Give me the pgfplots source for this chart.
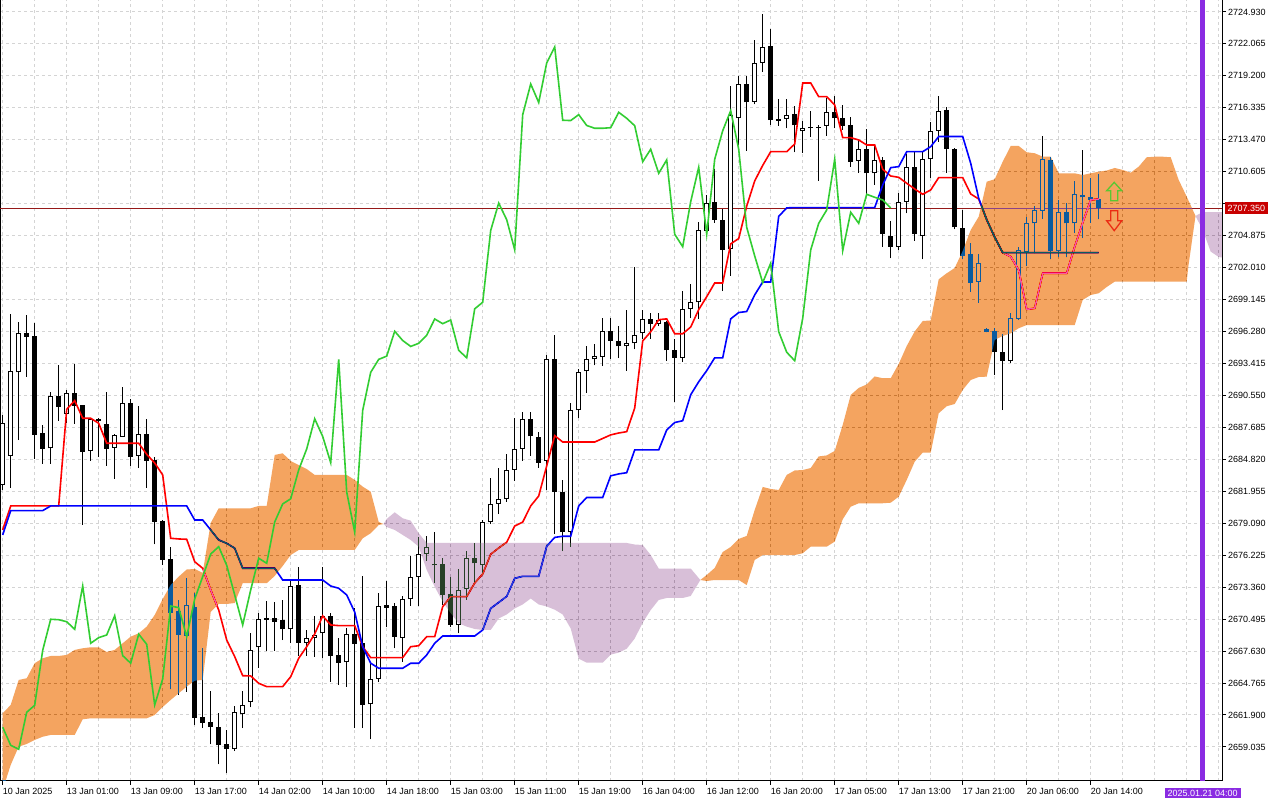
\documentclass[border=0pt]{standalone}
\usepackage{fontspec}
\setmainfont{Liberation Sans}
\usepackage{pgfplots}
\usepackage{pgfplotstable}
\pgfplotsset{compat=1.18}

\definecolor{cloudA}{RGB}{11,91,159}   % SandyBrown under difference blending
\definecolor{cloudB}{RGB}{39,64,39}    % Thistle under difference blending
\definecolor{chik}{RGB}{50,205,50}
\definecolor{vline}{RGB}{138,43,226}
\definecolor{pline}{RGB}{150,25,25}
\definecolor{plabel}{RGB}{200,0,0}
\definecolor{gridc}{RGB}{212,212,212}
\definecolor{arrg}{RGB}{90,200,50}
\definecolor{arrr}{RGB}{235,45,20}

% bullish candles: bar, open, high, low, close
\pgfplotstableread{
i o h l c
0 2682.52 2688.80 2682.07 2688.08
1 2685.15 2697.85 2682.28 2692.74
2 2692.62 2697.13 2686.55 2696.12
6 2685.81 2690.83 2684.40 2690.47
8 2688.91 2691.04 2688.05 2690.74
11 2685.57 2688.50 2684.70 2688.46
14 2685.86 2687.05 2683.06 2687.00
15 2686.85 2691.28 2686.80 2689.84
17 2685.15 2689.60 2684.02 2687.07
23 2668.98 2674.16 2663.99 2671.76
29 2658.83 2662.73 2658.65 2662.14
30 2661.96 2664.05 2660.71 2662.77
31 2663.04 2669.28 2662.59 2667.70
32 2667.97 2671.07 2666.14 2670.48
36 2669.58 2674.00 2668.33 2673.46
38 2668.33 2669.52 2667.19 2668.83
39 2668.83 2670.78 2667.13 2669.07
40 2669.22 2675.20 2666.98 2670.80
43 2666.62 2669.67 2664.44 2669.14
46 2662.86 2666.54 2659.72 2665.13
47 2665.13 2672.81 2664.89 2671.67
50 2668.83 2672.57 2666.68 2672.30
51 2672.27 2676.18 2671.67 2674.30
52 2674.25 2677.89 2671.70 2676.33
53 2676.31 2677.95 2675.73 2676.99
57 2669.97 2674.96 2669.22 2673.11
58 2673.17 2676.63 2672.21 2675.95
60 2675.35 2679.38 2674.45 2679.20
61 2679.20 2683.16 2679.01 2680.82
62 2680.82 2684.05 2679.91 2681.28
63 2681.25 2685.32 2681.00 2683.87
64 2683.87 2688.55 2682.91 2685.75
65 2685.78 2689.10 2684.71 2688.45
68 2684.71 2694.21 2682.07 2693.78
71 2678.29 2689.89 2676.96 2689.21
72 2689.21 2692.96 2688.48 2692.62
73 2692.70 2694.94 2690.79 2693.78
74 2693.78 2695.12 2693.24 2694.07
75 2694.03 2697.46 2693.17 2696.30
78 2694.94 2698.17 2692.77 2695.22
79 2695.22 2702.06 2694.68 2695.94
80 2696.10 2698.25 2695.58 2697.40
82 2696.98 2697.90 2696.75 2697.31
85 2693.92 2699.89 2693.53 2698.31
86 2698.31 2700.56 2697.47 2698.90
87 2698.90 2706.13 2697.41 2705.34
88 2705.27 2708.52 2704.81 2707.79
91 2703.71 2718.31 2701.29 2715.72
92 2715.39 2719.23 2713.00 2718.47
94 2716.88 2722.45 2716.65 2720.36
95 2720.36 2724.71 2719.56 2721.79
98 2715.32 2717.14 2714.49 2715.72
100 2714.21 2715.15 2712.31 2714.50
103 2714.73 2717.19 2713.83 2715.93
107 2711.57 2713.45 2710.52 2712.62
109 2710.46 2713.00 2709.42 2711.66
112 2703.88 2708.67 2703.59 2707.92
113 2707.92 2712.17 2706.88 2711.00
115 2704.84 2712.46 2702.75 2711.72
116 2711.72 2715.09 2710.07 2714.28
117 2714.28 2717.39 2713.30 2716.08
122 2700.75 2703.20 2698.86 2702.40
126 2693.66 2697.97 2693.48 2697.46
127 2697.38 2703.88 2697.31 2703.59
128 2703.44 2706.52 2702.15 2705.98
129 2705.98 2707.53 2703.29 2707.17
130 2707.11 2713.81 2706.37 2711.72
132 2703.53 2708.07 2702.93 2706.97
134 2705.98 2709.77 2705.14 2708.58
}\bull

% bearish candles: bar, open, high, low, close
\pgfplotstableread{
i o h l c
3 2696.15 2697.76 2692.23 2695.82
4 2695.88 2697.02 2684.85 2687.03
5 2687.18 2687.87 2684.40 2685.77
7 2690.47 2693.28 2688.28 2689.54
9 2690.74 2693.37 2687.99 2689.60
10 2689.66 2689.70 2678.96 2685.51
12 2688.46 2688.53 2685.06 2688.26
13 2687.99 2690.83 2684.25 2685.77
16 2689.84 2690.23 2684.25 2685.06
18 2687.07 2688.44 2682.28 2684.70
19 2684.76 2685.06 2677.20 2679.23
20 2679.29 2679.35 2675.35 2675.82
21 2675.89 2676.93 2664.20 2671.02
22 2671.22 2672.21 2663.69 2669.07
24 2671.56 2672.81 2661.00 2661.66
25 2661.75 2667.88 2660.71 2661.21
26 2661.27 2664.08 2659.27 2660.80
27 2660.85 2662.11 2657.48 2659.18
28 2659.30 2660.56 2656.67 2658.83
33 2670.60 2672.12 2667.64 2670.44
34 2670.57 2672.06 2667.64 2670.26
35 2670.42 2672.21 2668.62 2669.58
37 2673.55 2675.20 2667.19 2668.33
41 2670.78 2671.04 2664.89 2667.22
42 2667.28 2668.78 2664.59 2666.54
44 2669.16 2671.47 2660.71 2668.24
45 2668.33 2674.36 2660.71 2662.80
48 2671.76 2673.91 2669.76 2671.52
49 2671.67 2671.97 2667.88 2668.92
54 2675.44 2678.28 2673.76 2675.32
55 2675.44 2675.95 2671.76 2672.66
56 2672.75 2674.30 2669.82 2669.97
59 2676.00 2677.29 2673.85 2675.50
66 2688.45 2689.10 2685.14 2686.87
67 2686.82 2687.30 2684.05 2684.52
69 2693.78 2696.01 2678.11 2681.89
70 2681.89 2682.97 2676.60 2678.29
76 2696.30 2697.46 2693.85 2695.47
77 2695.47 2696.77 2693.89 2694.94
81 2697.41 2697.98 2695.65 2696.98
83 2697.14 2697.24 2693.66 2694.59
84 2694.59 2695.65 2689.94 2693.92
89 2707.86 2710.84 2706.04 2706.30
90 2706.27 2707.26 2699.89 2703.61
93 2718.47 2719.20 2712.50 2716.81
96 2721.89 2723.44 2714.82 2715.22
97 2715.32 2717.14 2714.72 2715.19
99 2715.78 2716.48 2712.34 2714.75
101 2714.59 2716.05 2713.74 2714.50
102 2714.64 2714.79 2709.80 2714.55
104 2715.93 2717.39 2714.50 2715.39
105 2715.39 2716.59 2714.35 2714.73
106 2714.79 2715.54 2711.06 2711.50
108 2712.62 2714.44 2708.61 2710.46
110 2711.66 2711.90 2703.88 2705.00
111 2704.84 2706.19 2702.84 2703.88
114 2711.00 2712.46 2704.42 2705.00
118 2716.14 2716.38 2710.52 2712.62
119 2712.62 2712.73 2705.44 2705.62
120 2705.53 2707.17 2702.75 2703.05
121 2703.20 2704.19 2699.85 2700.66
123 2696.51 2696.57 2696.21 2696.26
124 2696.35 2696.57 2692.38 2694.42
125 2694.42 2696.06 2689.24 2693.66
131 2711.66 2711.90 2702.75 2703.53
133 2706.97 2707.77 2702.93 2705.98
135 2708.52 2712.55 2704.64 2708.31
136 2708.31 2710.02 2706.04 2708.07
137 2708.13 2710.40 2706.34 2707.35
}\bear

% Tenkan-sen
\pgfplotstableread{
i v
0 2678.49
1 2680.64
7 2680.64
8 2689.31
9 2690.08
10 2688.50
11 2688.50
12 2688.05
13 2686.26
17 2686.26
18 2685.27
19 2684.49
20 2683.42
21 2677.74
22 2677.68
23 2677.65
24 2675.64
25 2675.05
26 2673.11
27 2671.31
28 2668.62
29 2667.13
30 2665.42
31 2665.40
32 2664.74
33 2664.44
35 2664.44
36 2665.33
37 2666.98
38 2668.02
39 2669.16
40 2670.78
41 2669.97
42 2669.91
44 2669.91
45 2668.02
46 2667.04
50 2667.04
51 2668.02
52 2668.11
53 2668.92
54 2668.92
55 2671.61
56 2672.51
58 2672.51
59 2673.73
60 2674.54
61 2676.31
62 2676.87
63 2677.39
64 2678.84
65 2679.19
66 2680.64
67 2681.53
68 2684.23
69 2686.94
70 2686.37
74 2686.37
75 2686.69
76 2687.01
77 2687.18
78 2687.30
79 2689.42
80 2695.43
81 2696.25
82 2697.34
83 2697.41
84 2696.08
85 2696.08
86 2696.68
87 2698.24
88 2699.40
89 2700.63
90 2700.63
91 2704.14
92 2704.61
93 2707.52
94 2709.78
95 2711.17
96 2712.40
98 2712.40
99 2713.09
100 2718.56
101 2718.56
102 2717.33
103 2717.33
104 2716.59
105 2713.66
106 2713.66
107 2713.45
108 2713.00
109 2713.00
110 2710.82
111 2710.22
112 2710.10
113 2709.57
114 2709.06
115 2708.58
116 2708.97
117 2710.08
120 2710.08
121 2708.61
122 2708.16
123 2706.30
124 2704.73
125 2703.35
126 2702.99
127 2701.79
128 2698.27
129 2698.36
130 2701.50
133 2701.50
134 2703.88
135 2706.04
136 2708.07
137 2708.16
}\tenkan

% Kijun-sen
\pgfplotstableread{
i v
0 2678.04
1 2680.22
5 2680.22
6 2680.64
23 2680.64
24 2679.38
25 2679.38
26 2678.49
27 2677.59
28 2677.29
29 2676.85
30 2675.05
34 2675.05
35 2674.00
40 2674.00
41 2673.46
42 2673.26
43 2672.66
44 2671.13
45 2668.02
46 2666.54
47 2666.09
50 2666.09
51 2666.54
52 2666.54
53 2667.28
54 2668.33
55 2668.98
59 2668.98
60 2669.52
61 2671.45
62 2671.99
63 2672.53
64 2674.15
65 2674.33
67 2674.33
68 2677.03
69 2677.82
70 2677.92
71 2677.92
72 2680.64
73 2681.40
75 2681.40
76 2683.34
77 2683.51
78 2683.62
79 2685.66
82 2685.66
83 2687.45
84 2688.12
85 2688.28
86 2690.61
87 2691.77
88 2692.77
89 2693.92
90 2693.92
91 2697.41
92 2697.98
93 2698.07
94 2699.56
95 2700.72
96 2700.72
97 2706.60
98 2707.36
99 2707.39
109 2707.39
110 2709.41
111 2710.97
112 2711.06
113 2712.40
115 2712.40
116 2712.85
117 2713.76
120 2713.76
121 2711.36
122 2708.22
123 2706.30
124 2704.73
125 2703.35
137 2703.35
}\kijun

% Chikou span (close plotted 26 bars back)
\pgfplotstableread{
i v
0 2660.80
1 2659.18
2 2658.83
3 2662.14
4 2662.77
5 2667.70
6 2670.48
7 2670.44
8 2670.26
9 2669.58
10 2673.46
11 2668.33
12 2668.83
13 2669.07
14 2670.80
15 2667.22
16 2666.54
17 2669.14
18 2668.24
19 2662.80
20 2665.13
21 2671.67
22 2671.52
23 2668.92
24 2672.30
25 2674.30
26 2676.33
27 2676.99
28 2675.32
29 2672.66
30 2669.97
31 2673.11
32 2675.95
33 2675.50
34 2679.20
35 2680.82
36 2681.28
37 2683.87
38 2685.75
39 2688.45
40 2686.87
41 2684.52
42 2693.78
43 2681.89
44 2678.29
45 2689.21
46 2692.62
47 2693.78
48 2694.07
49 2696.30
50 2695.47
51 2694.94
52 2695.22
53 2695.94
54 2697.40
55 2696.98
56 2697.31
57 2694.59
58 2693.92
59 2698.31
60 2698.90
61 2705.34
62 2707.79
63 2706.30
64 2703.61
65 2715.72
66 2718.47
67 2716.81
68 2720.36
69 2721.79
70 2715.22
71 2715.19
72 2715.72
73 2714.75
74 2714.50
75 2714.50
76 2714.55
77 2715.93
78 2715.39
79 2714.73
80 2711.50
81 2712.62
82 2710.46
83 2711.66
84 2705.00
85 2703.88
86 2707.92
87 2711.00
88 2705.00
89 2711.72
90 2714.28
91 2716.08
92 2712.62
93 2705.62
94 2703.05
95 2700.66
96 2702.40
97 2696.26
98 2694.42
99 2693.66
100 2697.46
101 2703.59
102 2705.98
103 2707.17
104 2711.72
105 2703.53
106 2706.97
107 2705.98
108 2708.58
109 2708.31
110 2708.07
111 2707.35
}\chikou

\begin{document}
\begin{tikzpicture}
\fill[white] (0pt,0pt) rectangle (1280pt,800pt);
\begin{axis}[
  at={(0pt,19pt)}, anchor=south west,
  scale only axis, width=1222pt, height=781pt,
  xmin=-0.3375, xmax=152.4125,
  ymin=2655.98, ymax=2726.0,
  axis background/.style={fill=white},
  axis line style={black, line width=1pt},
  tick align=outside,
  major tick length=4pt,
  minor tick length=0pt,
  xtick pos=left, ytick pos=right, yticklabel pos=right,
  xtick={0,8,...,136},
  xticklabels={10 Jan 2025,13 Jan 01:00,13 Jan 09:00,13 Jan 17:00,14 Jan 02:00,14 Jan 10:00,14 Jan 18:00,15 Jan 03:00,15 Jan 11:00,15 Jan 19:00,16 Jan 04:00,16 Jan 12:00,16 Jan 20:00,17 Jan 05:00,17 Jan 13:00,17 Jan 21:00,20 Jan 06:00,20 Jan 14:00},
  minor xtick={4,12,...,148,144,152},
  ytick={2659.035,2661.900,2664.765,2667.630,2670.495,2673.360,2676.225,2679.090,2681.955,2684.820,2687.685,2690.550,2693.415,2696.280,2699.145,2702.010,2704.875,2707.740,2710.605,2713.470,2716.335,2719.200,2722.065,2724.930},
  yticklabels={2659.035,2661.900,2664.765,2667.630,2670.495,2673.360,2676.225,2679.090,2681.955,2684.820,2687.685,2690.550,2693.415,2696.280,2699.145,2702.010,2704.875,,2710.605,2713.470,2716.335,2719.200,2722.065,2724.930},
  xmajorgrids, xminorgrids, ymajorgrids,
  grid style={color=gridc, dash pattern=on 3pt off 3pt, line width=1pt},
  major grid style={color=gridc, dash pattern=on 3pt off 3pt, line width=1pt},
  minor grid style={color=gridc, dash pattern=on 3pt off 3pt, line width=1pt},
  major tick style={black, line width=1pt},
  ticklabel style={font=\fontsize{9}{10}\selectfont, text=black},
  xticklabel style={anchor=north west, inner sep=0pt, yshift=-3pt},
  yticklabel style={anchor=west, inner sep=0pt, xshift=2pt},
]

% current price line (drawn below the cloud)
\addplot[draw=pline, line width=0.7pt, forget plot] coordinates {(-1,2707.35) (154,2707.35)};

% wicks
\addplot[draw=none, mark=none, forget plot, error bars/.cd, y dir=plus, y explicit, error mark=none, error bar style={draw=black, line width=1pt, solid}]
  table[x=i, y=l, y error expr={\thisrow{h}-\thisrow{l}}] {\bull};
\addplot[draw=none, mark=none, forget plot, error bars/.cd, y dir=plus, y explicit, error mark=none, error bar style={draw=black, line width=1pt, solid}]
  table[x=i, y=l, y error expr={\thisrow{h}-\thisrow{l}}] {\bear};
% bearish bodies
\addplot[draw=none, mark=none, forget plot, error bars/.cd, y dir=plus, y explicit, error mark=none, error bar style={draw=black, line width=5pt, solid}]
  table[x=i, y=c, y error expr={\thisrow{o}-\thisrow{c}}] {\bear};
% bullish bodies: outline and white inside
\addplot[draw=none, mark=none, forget plot, error bars/.cd, y dir=plus, y explicit, error mark=none, error bar style={draw=black, line width=5pt, solid}]
  table[x=i, y=o, y error expr={\thisrow{c}-\thisrow{o}}] {\bull};
\addplot[draw=none, mark=none, forget plot, error bars/.cd, y dir=plus, y explicit, error mark=none, error bar style={draw=white, line width=3pt, solid}]
  table[x=i, y expr={\thisrow{o}+0.09}, y error expr={max(\thisrow{c}-\thisrow{o}-0.18,0.001)}] {\bull};

% Tenkan and Kijun
\addplot[color=red, line width=1.6pt, forget plot] table[x=i, y=v] {\tenkan};
\addplot[color=blue, line width=1.6pt, forget plot] table[x=i, y=v] {\kijun};

% Kumo (drawn with difference blending, as the terminal does)
\addplot[fill=cloudA, draw=none, blend mode=difference, forget plot] coordinates {
(0,2662.05) (1,2662.80) (2,2665.04) (3,2665.19) (4,2666.54) (5,2666.98) (6,2667.19) (7,2667.19) (8,2667.28) (9,2667.73) (10,2667.88) (11,2667.97) (12,2667.97) (13,2667.55) (14,2667.73) (15,2668.33) (16,2668.92) (17,2669.22) (18,2669.82) (19,2670.87) (20,2672.30) (21,2673.55) (22,2674.30) (23,2674.94) (24,2674.99) (25,2674.63) (26,2679.11) (27,2680.43) (31,2680.43) (32,2680.64) (33,2680.64) (34,2685.21) (35,2685.36) (36,2684.67) (37,2684.31) (38,2683.95) (39,2683.42) (43,2683.42) (44,2682.97) (45,2682.37) (46,2681.92) (47,2679.20) (47.6,2679.02)
(47,2678.93) (46,2678.19) (45,2677.74) (44,2676.69) (37,2676.69) (36,2676.24) (35,2675.26) (34,2674.36) (33,2673.71) (30,2673.71) (29,2671.94) (28,2671.85) (27,2671.85) (26,2671.13) (25,2665.04) (24,2664.98) (23,2664.44) (22,2663.85) (21,2663.25) (20,2662.62) (19,2661.90) (18,2661.60) (11,2661.60) (10,2661.51) (9,2660.11) (6,2660.11) (5,2659.95) (4,2659.66) (3,2659.30) (2,2659.06) (1,2657.42) (0,2655.18)
};
\addplot[fill=cloudB, draw=none, blend mode=difference, forget plot] coordinates {
(47.6,2679.02) (48,2679.47) (49,2680.07) (50,2679.53) (51,2679.32) (52,2678.19) (53,2677.32) (78,2677.32) (79,2677.18) (80,2677.14) (81,2676.24) (82,2675.03) (86,2675.03) (87.2,2674.00)
(86,2672.57) (85,2672.39) (83,2672.39) (82,2672.21) (81,2671.31) (80,2670.18) (79,2668.75) (78,2667.84) (77,2667.49) (76,2667.31) (75,2666.59) (73,2666.59) (72,2666.95) (71,2669.65) (70,2670.91) (69,2671.34) (68,2671.63) (67,2671.81) (66,2672.34) (65,2671.81) (64,2671.45) (63,2670.91) (62,2670.55) (61,2669.52) (60,2669.52) (59,2669.61) (58,2669.82) (57,2670.12) (56,2671.02) (55,2672.06) (54,2673.40) (53,2674.90) (52,2676.99) (51,2677.59) (50,2678.04) (49,2678.49) (48,2678.75)
};
\addplot[fill=cloudA, draw=none, blend mode=difference, forget plot] coordinates {
(87.2,2674.00) (88,2674.45) (89,2675.08) (90,2676.51) (91,2676.96) (92,2677.68) (93,2677.95) (94,2680.28) (95,2682.34) (96,2682.16) (97,2682.07) (98,2683.42) (99,2683.82) (100,2683.86) (101,2684.04) (102,2685.08) (103,2685.17) (104,2685.57) (105,2687.90) (106,2690.59) (107,2691.22) (108,2691.53) (109,2692.25) (110,2692.09) (111,2692.09) (112,2693.37) (113,2694.98) (114,2696.28) (115,2697.22) (116,2697.27) (117,2700.96) (118,2701.50) (119,2701.97) (120,2703.50) (121,2705.38) (122,2706.57) (123,2709.71) (124,2709.93) (125,2711.50) (126,2712.91) (127,2712.91) (128,2712.35) (129,2712.26) (130,2711.95) (131,2711.95) (132,2710.46) (134,2710.46) (135,2710.31) (136,2710.46) (137,2710.61) (138,2710.71) (139,2710.94) (140,2710.76) (141,2710.52) (142,2711.06) (143,2711.90) (144,2711.95) (145,2711.95) (146,2711.90) (147,2709.86) (148,2708.37) (149.1,2706.64)
(148.2,2702.09) (148,2700.75) (139,2700.75) (138,2700.27) (137,2699.71) (136,2699.55) (135,2699.11) (134,2696.86) (128,2696.86) (127,2696.57) (126,2696.12) (125,2695.88) (124,2695.52) (123,2692.23) (122,2692.20) (121,2691.93) (120,2691.04) (119,2689.78) (118,2689.58) (117,2688.95) (116,2685.42) (115,2685.42) (114,2684.61) (113,2682.97) (112,2681.47) (111,2680.93) (110,2680.88) (107,2680.88) (106,2680.57) (105,2679.44) (104,2677.44) (103,2676.99) (101,2676.99) (100,2676.40) (99,2676.24) (95,2676.24) (94,2675.80) (93,2673.55) (92,2674.00) (89,2674.00) (88,2673.91)
};
\addplot[fill=cloudB, draw=none, blend mode=difference, forget plot] coordinates {
(149.1,2706.64) (150,2706.99) (153,2706.99) (153,2702.84) (152,2702.96) (151,2703.44) (150,2705.38)
};

% Chikou span
\addplot[color=chik, line width=1.6pt, forget plot] table[x=i, y=v] {\chikou};

% current-time marker
\addplot[draw=vline, line width=4.5pt, forget plot] coordinates {(150,2654) (150,2728)};

% buy / sell arrows
\draw[draw=arrg, line width=1.3pt, line join=miter, shift={(axis cs:138.94,2709.65)}]
  (0pt,0pt) -- (7.6pt,-8.4pt) -- (3.5pt,-8.4pt) -- (3.5pt,-18.4pt) -- (-3.5pt,-18.4pt) -- (-3.5pt,-8.4pt) -- (-7.6pt,-8.4pt) -- cycle;
\draw[draw=arrr, line width=1.3pt, line join=miter, shift={(axis cs:138.94,2705.32)}]
  (0pt,0pt) -- (7.6pt,10pt) -- (3.5pt,10pt) -- (3.5pt,20pt) -- (-3.5pt,20pt) -- (-3.5pt,10pt) -- (-7.6pt,10pt) -- cycle;

\coordinate (pl) at (axis cs:152.4125,2707.35);
\coordinate (pb) at (axis cs:150,2655.98);
\end{axis}

\node[anchor=west, fill=plabel, text=white, inner xsep=3pt, inner ysep=2.5pt, text height=6.4pt, text depth=0pt, font=\fontsize{9}{10}\selectfont] at ([xshift=2.5pt]pl) {2707.350};
\node[anchor=north, fill=vline, text=white, inner xsep=3pt, inner ysep=2pt, text height=6.4pt, text depth=0pt, font=\fontsize{9}{10}\selectfont] at ([yshift=-6.5pt]pb) {2025.01.21 04:00};

\pgfresetboundingbox
\path (0,0) rectangle (1280pt,800pt);
\end{tikzpicture}
\end{document}
